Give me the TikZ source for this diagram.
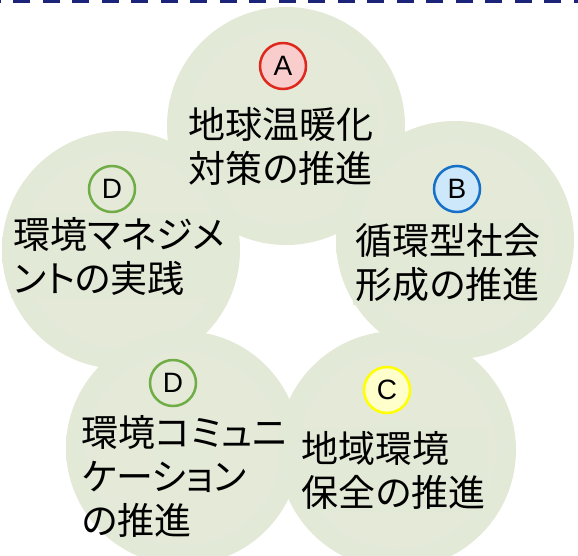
\documentclass[tikz,border=0pt]{standalone}
\usepackage{fontspec}
\newfontfamily\jp[RawFeature=+palt]{Noto Sans CJK JP}
\newfontfamily\lat{Liberation Sans}
\definecolor{circ}{RGB}{227,233,215}
\definecolor{navy}{RGB}{28,36,122}
\definecolor{redA}{RGB}{222,40,28}
\definecolor{pinkA}{RGB}{249,205,203}
\definecolor{blueB}{RGB}{22,112,200}
\definecolor{lblueB}{RGB}{204,232,250}
\definecolor{yelC}{RGB}{255,255,0}
\definecolor{lyelC}{RGB}{255,255,204}
\definecolor{grnD}{RGB}{112,173,71}
\pgfdeclareradialshading{softdisc}{\pgfpoint{0bp}{0bp}}{rgb(0bp)=(0.894,0.916,0.847); rgb(45bp)=(0.890,0.914,0.843); rgb(50bp)=(1,1,1)}
\begin{document}
\begin{tikzpicture}[x=1pt,y=-1pt,
  disc/.style={circle, shading=softdisc, inner sep=0pt, minimum size=#1},
  letter/.style={circle, line width=2.5pt, minimum size=46pt, inner sep=0pt, font=\lat\fontsize{28}{30}\selectfont},
  jtxt/.style={anchor=west, align=left, inner sep=3pt, font=\jp\fontsize{37}{44}\selectfont},
  jfill/.style={fill=circ}]
\clip (0,0) rectangle (578,555);
% big discs
\node[disc=238pt] (cA) at (286,126) {};
\node[disc=238pt] (cDl) at (121,250) {};
\node[disc=234pt] (cDb) at (183,448) {};
\node[disc=238pt] (cC) at (397,450) {};
\node[disc=238pt] (cB) at (455,240) {};
% dashed top line
\coordinate (dl) at (0,1);
\coordinate (dr) at (578,1);
\draw[navy, line width=4.5pt, dash pattern=on 17pt off 12.5pt, dash phase=16.5pt] (dl) -- (dr);
% texts
\node[jtxt, jfill] (tA) at (185.5,146.5) {地球温暖化\\対策の推進};
\node[jtxt, jfill] (tDl) at (10.5,256) {環境マネジメ\\ントの実践};
\node[jtxt, jfill] (tB) at (352.5,262.5) {循環型社会\\形成の推進};
\node[jtxt, jfill] (tC) at (298.5,470) {地域環境\\保全の推進};
\node[jtxt] (tDb) at (78.5,476) {環境コミュニ\\ケーション\\の推進};
% letters
\node[letter, draw=redA, fill=pinkA] (lA) at (283,66) {A};
\node[letter, draw=blueB, fill=lblueB] (lB) at (457,189) {B};
\node[letter, draw=yelC, fill=lyelC] (lC) at (387,390) {C};
\node[letter, draw=grnD] (lDl) at (112,189) {D};
\node[letter, draw=grnD] (lDb) at (173,383) {D};
\end{tikzpicture}
\end{document}
